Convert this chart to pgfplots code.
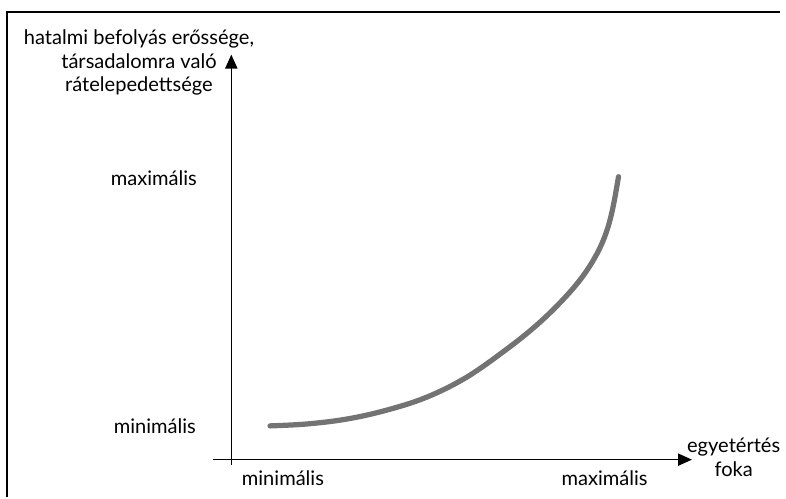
\documentclass[border=0pt]{standalone}
\usepackage{pgfplots}
\pgfplotsset{compat=1.18}
\usepackage{fontspec}
\setmainfont{Lato}
\usetikzlibrary{arrows.meta}
\begin{document}
\begin{tikzpicture}
\begin{axis}[
  scale only axis, width=15.72cm, height=10.02cm,
  xmin=0, xmax=786, ymin=0, ymax=501,
  hide axis, clip=false,
]
\path (axis cs:0,0) rectangle (axis cs:786,501);
% frame (top and left)
\draw[line width=1.2pt] (axis cs:7.5,0) -- (axis cs:7.5,489) -- (axis cs:786,489);
% axes
\draw[line width=0.8pt, -{Triangle[length=8pt,width=7pt]}] (axis cs:233,33) -- (axis cs:233,446);
\draw[line width=0.8pt, -{Triangle[length=8pt,width=7pt]}] (axis cs:215,38) -- (axis cs:697,38);
% curve
\addplot[line width=3pt, color=black!55, smooth, tension=0.6, line cap=round] coordinates {
(272,72) (310,74) (350,79) (390,88) (430,101) (470,121) (510,149) (540,173) (565,197) (585,220) (600,243) (610,265) (617,290) (623,323)
};
% labels
\node[font=\fontsize{11.5}{13.6}\selectfont, align=center] at (axis cs:140,438) {hatalmi befolyás erőssége,\\társadalomra való\\rátelepedettsége};
\node[font=\fontsize{11.5}{13.6}\selectfont] at (axis cs:155,322) {maximális};
\node[font=\fontsize{11.5}{13.6}\selectfont] at (axis cs:156,72) {minimális};
\node[font=\fontsize{11.5}{13.6}\selectfont] at (axis cs:285,19) {minimális};
\node[font=\fontsize{11.5}{13.6}\selectfont] at (axis cs:609,19) {maximális};
\node[font=\fontsize{11.5}{13.6}\selectfont, align=center] at (axis cs:739,40) {egyetértés\\foka};
\end{axis}
\end{tikzpicture}
\end{document}
